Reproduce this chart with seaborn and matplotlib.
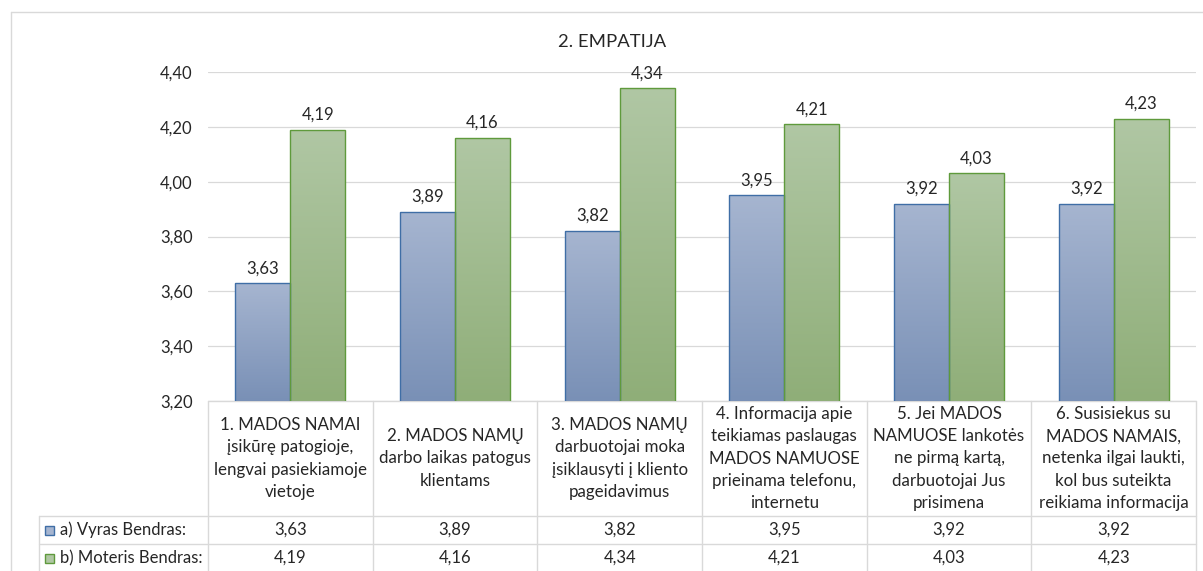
import numpy as np
import pandas as pd
import matplotlib
matplotlib.use("Agg")
import matplotlib.pyplot as plt
import seaborn as sns
from matplotlib.colors import LinearSegmentedColormap
from matplotlib.lines import Line2D
from matplotlib.patches import Rectangle
import matplotlib.transforms as mtransforms

# ---- data -------------------------------------------------------------
title = "2. EMPATIJA"
categories = [
    "1. MADOS NAMAI\nįsikūrę patogioje,\nlengvai pasiekiamoje\nvietoje",
    "2. MADOS NAMŲ\ndarbo laikas patogus\nklientams",
    "3. MADOS NAMŲ\ndarbuotojai moka\nįsiklausyti į kliento\npageidavimus",
    "4. Informacija apie\nteikiamas paslaugas\nMADOS NAMUOSE\nprieinama telefonu,\ninternetu",
    "5. Jei MADOS\nNAMUOSE lankotės\nne pirmą kartą,\ndarbuotojai Jus\nprisimena",
    "6. Susisiekus su\nMADOS NAMAIS,\nnetenka ilgai laukti,\nkol bus suteikta\nreikiama informacija",
]
series_names = ["a) Vyras Bendras:", "b) Moteris Bendras:"]
vyras = [3.63, 3.89, 3.82, 3.95, 3.92, 3.92]
moteris = [4.19, 4.16, 4.34, 4.21, 4.03, 4.23]
y_ticks = [3.20, 3.40, 3.60, 3.80, 4.00, 4.20, 4.40]

# ---- styling ----------------------------------------------------------
sns.set_theme(style="white")
plt.rcParams["font.family"] = ["Lato", "DejaVu Sans"]
FS_NUM = 12       # tick labels, bar labels, table values
FS_HEAD = 12.2    # category header cells
FS_LEG = 12.0     # series names in the table
FS_TITLE = 13.3
TEXT = "#262626"
GRID = "#d9d9d9"
face_top = ["#a6b5d0", "#b0c7a4"]
face_bot = ["#7990b6", "#8fae78"]
edges = ["#3f6ea6", "#5f9a3c"]

def fmt(v):
    return f"{v:.2f}".replace(".", ",")

df = pd.DataFrame({
    "category": categories * 2,
    "series": [series_names[0]] * len(categories) + [series_names[1]] * len(categories),
    "value": vyras + moteris,
})

W, H = 1203, 571
fig = plt.figure(figsize=(W / 100, H / 100), dpi=100)
ax_l, ax_r, ax_t, ax_b = 208, 1196, 72, 401
ax = fig.add_axes([ax_l / W, 1 - ax_b / H, (ax_r - ax_l) / W, (ax_b - ax_t) / H])

sns.barplot(data=df, x="category", y="value", hue="series",
            palette=face_bot, width=0.667, gap=0, saturation=1,
            legend=False, ax=ax, zorder=3)

ymin, ymax = y_ticks[0], y_ticks[-1]
ax.set_xlim(-0.5, len(categories) - 0.5)
ax.set_ylim(ymin, ymax)

# vertical gradient fill for each bar, clipped to the bar shape
grad = np.linspace(0, 1, 256).reshape(-1, 1)
for k, cont in enumerate(ax.containers):
    cmap = LinearSegmentedColormap.from_list(f"g{k}", [face_bot[k], face_top[k]])
    for patch in cont.patches:
        x0 = patch.get_x()
        x1 = x0 + patch.get_width()
        top = patch.get_y() + patch.get_height()
        patch.set_facecolor("none")
        patch.set_edgecolor(edges[k])
        patch.set_linewidth(1.0)
        im = ax.imshow(grad, cmap=cmap, origin="lower", aspect="auto",
                       extent=[x0, x1, ymin, top], interpolation="bicubic",
                       zorder=2)
        im.set_clip_path(patch)
    ax.bar_label(cont, labels=[fmt(p.get_height()) for p in cont.patches],
                 padding=5, fontsize=FS_NUM, color=TEXT)

ax.set_xlim(-0.5, len(categories) - 0.5)
ax.set_ylim(ymin, ymax)
ax.set_yticks(y_ticks)
ax.set_yticklabels([fmt(t) for t in y_ticks], fontsize=FS_NUM, color=TEXT)
ax.tick_params(axis="y", length=0, pad=11)
ax.set_xticks([])
ax.set_xlabel("")
ax.set_ylabel("")
ax.yaxis.grid(True, color=GRID, linewidth=0.9, zorder=0)
ax.set_axisbelow(True)
for s in ax.spines.values():
    s.set_visible(False)

# ---- data table under the plot area ----------------------------------
ax_h = ax_b - ax_t
head_h = 115 / ax_h
row_h = 28 / ax_h
leg_x = (39 - ax_l) / (ax_r - ax_l)
bottom = -(head_h + 3 * row_h)
blend = mtransforms.blended_transform_factory(ax.transData, ax.transAxes)
line_kw = dict(color=GRID, linewidth=1.0, clip_on=False, zorder=1)

ax.add_line(Line2D([-0.5, len(categories) - 0.5], [0, 0], transform=blend, **line_kw))
for i in range(len(categories) + 1):
    ax.add_line(Line2D([i - 0.5, i - 0.5], [0, bottom], transform=blend, **line_kw))
for r in (1, 2):
    yy = -(head_h + (r - 1) * row_h)
    ax.add_line(Line2D([leg_x, 1], [yy, yy], transform=ax.transAxes, **line_kw))
ax.add_line(Line2D([leg_x, leg_x], [-head_h, bottom], transform=ax.transAxes, **line_kw))

for i, cat in enumerate(categories):
    ax.text(i, -head_h / 2, cat, transform=blend, ha="center", va="center",
            fontsize=FS_HEAD, color=TEXT, linespacing=1.48, clip_on=False)

for r, (name, vals) in enumerate(zip(series_names, [vyras, moteris])):
    yc = -(head_h + (r + 0.5) * row_h)
    for i, v in enumerate(vals):
        ax.text(i, yc, fmt(v), transform=blend, ha="center", va="center",
                fontsize=FS_NUM, color=TEXT, clip_on=False)
    sq = 9
    ax.add_patch(Rectangle(((45 - ax_l) / (ax_r - ax_l), yc - sq / 2 / ax_h),
                           sq / (ax_r - ax_l), sq / ax_h, transform=ax.transAxes,
                           facecolor=face_top[r], edgecolor=edges[r], linewidth=1.0,
                           clip_on=False))
    ax.text((60 - ax_l) / (ax_r - ax_l), yc, name, transform=ax.transAxes,
            ha="left", va="center", fontsize=FS_LEG, color=TEXT, clip_on=False)

# ---- title and chart frame ------------------------------------------
fig.text(612 / W, 1 - 42 / H, title, ha="center", va="center", fontsize=FS_TITLE, color=TEXT)
fig.add_artist(Line2D([11 / W, 1], [1 - 12 / H, 1 - 12 / H], transform=fig.transFigure,
                      color=GRID, linewidth=1.0))
fig.add_artist(Line2D([11 / W, 11 / W], [0, 1 - 12 / H], transform=fig.transFigure,
                      color=GRID, linewidth=1.0))

fig.savefig("out.png", dpi=100, facecolor="white")
